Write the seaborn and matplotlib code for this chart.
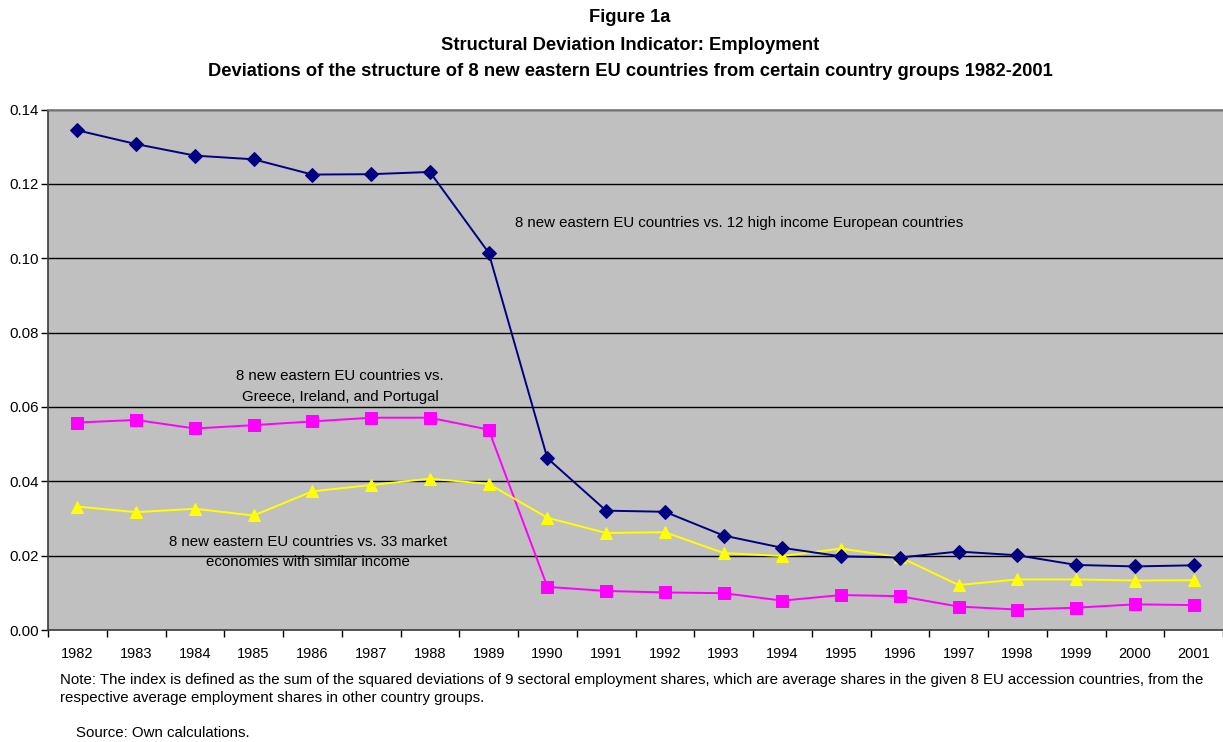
import matplotlib
matplotlib.use("Agg")
import matplotlib.pyplot as plt
import seaborn as sns
import pandas as pd
import numpy as np

years = [str(y) for y in range(1982, 2002)]
high_income = [0.1344, 0.1307, 0.1276, 0.1266, 0.1225, 0.1226, 0.1232, 0.1015, 0.0462, 0.0321,
               0.0318, 0.0254, 0.0221, 0.0198, 0.0195, 0.0211, 0.0201, 0.0175, 0.0171, 0.0174]
gip = [0.0558, 0.0565, 0.0542, 0.0551, 0.0561, 0.0571, 0.0571, 0.0539, 0.0116, 0.0105,
       0.0101, 0.0099, 0.0079, 0.0094, 0.0091, 0.0063, 0.0055, 0.0060, 0.0069, 0.0067]
market33 = [0.0332, 0.0317, 0.0326, 0.0308, 0.0373, 0.0390, 0.0407, 0.0393, 0.0302, 0.0261,
            0.0263, 0.0207, 0.0199, 0.0219, 0.0196, 0.0121, 0.0136, 0.0136, 0.0133, 0.0134]
yticks = [0.00, 0.02, 0.04, 0.06, 0.08, 0.10, 0.12, 0.14]

sns.set_theme(style="white")
plt.rcParams['font.family'] = ['Liberation Sans', 'DejaVu Sans']
plt.rcParams['text.color'] = 'black'
plt.rcParams['xtick.color'] = 'black'
plt.rcParams['ytick.color'] = 'black'
plt.rcParams['xtick.labelcolor'] = 'black'
plt.rcParams['ytick.labelcolor'] = 'black'

df = pd.DataFrame({"pos": np.arange(len(years)), "year": years,
                   "high": high_income, "gip": gip, "m33": market33})

fig = plt.figure(figsize=(12.23, 7.42), dpi=100)
ax = fig.add_axes([48/1223, 112/742, 1 - 48/1223, (630 - 109.5)/742])
ax.set_facecolor("#C0C0C0")

sns.lineplot(data=df, x="pos", y="high", ax=ax, color="#000080", marker="D",
             markersize=7, markeredgecolor="#000080", linewidth=1.4, zorder=4)
sns.lineplot(data=df, x="pos", y="gip", ax=ax, color="#FF00FF", marker="s",
             markersize=8.5, markeredgecolor="#FF00FF", linewidth=1.4, zorder=3)
sns.lineplot(data=df, x="pos", y="m33", ax=ax, color="#FFFF00", marker="^",
             markersize=9, markeredgecolor="#FFFF00", linewidth=1.4, zorder=3)

ax.set_xlim(-0.5, len(years) - 0.5)
ax.set_ylim(0, 0.14)
ax.set_yticks(yticks)
ax.set_yticklabels([f"{v:.2f}" for v in yticks], fontsize=10.8)
ax.set_xticks(np.arange(len(years)))
ax.set_xticklabels(years, fontsize=10.5)
ax.set_xticks(np.arange(-0.5, len(years) + 0.5, 1), minor=True)
ax.tick_params(axis="x", which="major", length=0, pad=12)
ax.tick_params(axis="x", which="minor", length=5, width=1, color="black", direction="out", bottom=True)
ax.tick_params(axis="y", length=5, width=1, color="black", direction="out", left=True, pad=1.5)
ax.set_xlabel("")
ax.set_ylabel("")
for v in yticks[1:]:
    ax.axhline(v, color="black", linewidth=1, zorder=1)
ax.spines["right"].set_visible(False)
ax.spines["left"].set_color("#404040")
ax.spines["bottom"].set_color("#404040")
ax.spines["top"].set_color("#808080")

ax.text(7.45, 0.1095, "8 new eastern EU countries vs. 12 high income European countries",
        fontsize=10.8, ha="left", va="center")
ax.text(4.47, 0.0655, "8 new eastern EU countries vs.\nGreece, Ireland, and Portugal",
        fontsize=10.8, ha="center", va="center", linespacing=1.55)
ax.text(3.93, 0.0209, "8 new eastern EU countries vs. 33 market\neconomies with similar income",
        fontsize=10.8, ha="center", va="center", linespacing=1.55)

fig.text(630/1223, 1 - 18/742, "Figure 1a", fontsize=13.2, fontweight="bold", ha="center", va="center")
fig.text(630/1223, 1 - 45/742, "Structural Deviation Indicator: Employment", fontsize=13.2,
         fontweight="bold", ha="center", va="center")
fig.text(630/1223, 1 - 72/742,
         "Deviations of the structure of 8 new eastern EU countries from certain country groups 1982-2001",
         fontsize=13.2, fontweight="bold", ha="center", va="center")
fig.text(60/1223, 1 - 689/742,
         "Note: The index is defined as the sum of the squared deviations of 9 sectoral employment shares, which are average shares in the given 8 EU accession countries, from the\nrespective average employment shares in other country groups.",
         fontsize=10.8, ha="left", va="center", linespacing=1.45)
fig.text(76/1223, 1 - 733/742, "Source: Own calculations.", fontsize=10.8, ha="left", va="center")

fig.savefig("out.png", dpi=100)
